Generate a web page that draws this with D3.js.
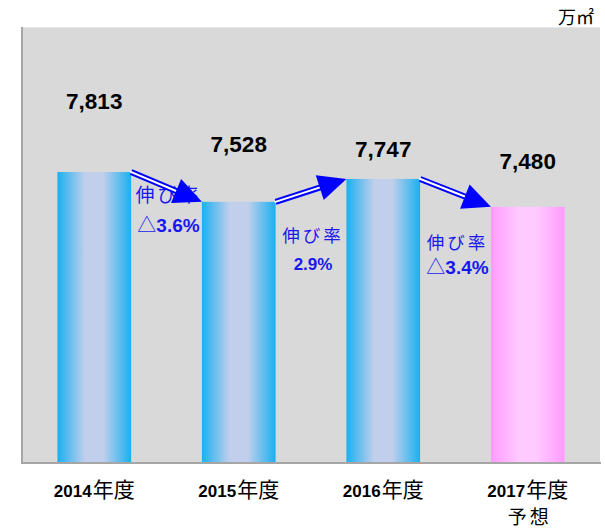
<!DOCTYPE html>
<html>
<head>
<meta charset="utf-8">
<script src="https://cdn.jsdelivr.net/npm/d3@7"></script>
<style>
  body { margin: 0; background: #fff; }
  svg { display: block; }
</style>
</head>
<body>
<svg width="605" height="529"></svg>
<script>
'use strict';

// chart values
var years = ["2014", "2015", "2016", "2017"];
var yearSuffix = "年度";
var subLabels = ["", "", "", "予想"];
var values = [7813, 7528, 7747, 7480];
var valueText = ["7,813", "7,528", "7,747", "7,480"];
var rateTitle = "伸び率";
var rates = ["△3.6%", "2.9%", "△3.4%"];
var unit = "万㎡";

// layout bits (pixel offsets of the hand-placed labels)
var labelLift = [63, 50, 22, 38];
var rateTitleY = [202, 242, 249];
var rateY = [232, 270, 274];
var rateTitleSize = [19, 17.5, 17.5];
var rateSize = [19, 17, 19];

var svg = d3.select("svg");
var plot = {left: 22, right: 600, top: 27, bottom: 463};

var x = d3.scaleBand().domain(years).range([plot.left, plot.right]).paddingInner(0.49).paddingOuter(0.245);
var y = d3.scaleLinear().domain([5030, 9200]).range([plot.bottom, plot.top]);

// gradients
var defs = svg.append("defs");
function grad(id, edge, mid) {
  var g = defs.append("linearGradient").attr("id", id)
    .attr("x1", "0%").attr("x2", "100%").attr("y1", "0%").attr("y2", "0%");
  g.append("stop").attr("offset", "0%").attr("stop-color", edge);
  g.append("stop").attr("offset", "38%").attr("stop-color", mid);
  g.append("stop").attr("offset", "62%").attr("stop-color", mid);
  g.append("stop").attr("offset", "100%").attr("stop-color", edge);
}
grad("gBlue", "#1ab0f0", "#c2cfec");
grad("gPink", "#ff9aff", "#ffcaff");

// plot background
svg.append("rect")
  .attr("x", plot.left).attr("y", plot.top)
  .attr("width", plot.right - plot.left).attr("height", plot.bottom - plot.top)
  .attr("fill", "#d9d9d9");
svg.append("line")
  .attr("x1", plot.left).attr("x2", plot.right).attr("y1", plot.top + 0.5).attr("y2", plot.top + 0.5)
  .attr("stroke", "#e6e6e6").attr("stroke-width", 1);

// bars
svg.selectAll(".bar")
  .data(values)
  .enter()
  .append("rect")
  .attr("class", "bar")
  .attr("x", function(d, i) { return x(years[i]); })
  .attr("y", function(d) { return y(d); })
  .attr("width", x.bandwidth())
  .attr("height", function(d) { return plot.bottom - y(d); })
  .attr("fill", function(d, i) { return i === 3 ? "url(#gPink)" : "url(#gBlue)"; });

// axis lines
svg.append("line")
  .attr("x1", plot.left).attr("x2", plot.left).attr("y1", plot.top).attr("y2", plot.bottom)
  .attr("stroke", "#a6a6a6").attr("stroke-width", 2);
svg.append("line")
  .attr("x1", plot.left - 1).attr("x2", plot.right + 1).attr("y1", plot.bottom).attr("y2", plot.bottom)
  .attr("stroke", "#a6a6a6").attr("stroke-width", 2);

// value labels
svg.selectAll(".val")
  .data(values)
  .enter()
  .append("text")
  .attr("class", "val")
  .attr("x", function(d, i) { return x(years[i]) + x.bandwidth() / 2; })
  .attr("y", function(d, i) { return y(d) - labelLift[i]; })
  .attr("text-anchor", "middle")
  .attr("font-family", "'Liberation Sans', Arial, sans-serif")
  .attr("font-weight", "bold")
  .attr("font-size", 22.5)
  .attr("fill", "#000")
  .text(function(d, i) { return valueText[i]; });

// category labels
var cat = svg.selectAll(".cat")
  .data(years)
  .enter()
  .append("text")
  .attr("class", "cat")
  .attr("x", function(d) { return x(d) + x.bandwidth() / 2; })
  .attr("y", 497)
  .attr("text-anchor", "middle")
  .attr("font-family", "'Liberation Sans', 'Noto Sans CJK JP', sans-serif")
  .attr("font-size", 17)
  .attr("fill", "#000");
cat.append("tspan").attr("font-weight", "bold").text(function(d) { return d; });
cat.append("tspan")
  .attr("font-family", "'Noto Sans CJK JP', sans-serif")
  .attr("font-size", 21)
  .attr("dx", 1)
  .text(yearSuffix);

svg.selectAll(".sub")
  .data(years)
  .enter()
  .append("text")
  .attr("class", "sub")
  .attr("x", function(d) { return x(d) + x.bandwidth() / 2 + 2; })
  .attr("y", 524)
  .attr("text-anchor", "middle")
  .attr("font-family", "'Noto Sans CJK JP', sans-serif")
  .attr("font-size", 19)
  .attr("letter-spacing", 3)
  .attr("fill", "#000")
  .text(function(d, i) { return subLabels[i]; });

// unit
svg.append("text")
  .attr("x", 594).attr("y", 24)
  .attr("text-anchor", "end")
  .attr("font-family", "'Noto Sans CJK JP', sans-serif")
  .attr("font-size", 18)
  .attr("fill", "#000")
  .text(unit);

// growth-rate notes
function gapX(i) { return (x(years[i]) + x.bandwidth() + x(years[i + 1])) / 2 + 2; }

svg.selectAll(".rtitle")
  .data(rates)
  .enter()
  .append("text")
  .attr("class", "rtitle")
  .attr("x", function(d, i) { return gapX(i); })
  .attr("y", function(d, i) { return rateTitleY[i]; })
  .attr("text-anchor", "middle")
  .attr("font-family", "'Noto Sans CJK JP', sans-serif")
  .attr("font-size", function(d, i) { return rateTitleSize[i]; })
  .attr("letter-spacing", 3)
  .attr("fill", "#1818ee")
  .text(rateTitle);

var rt = svg.selectAll(".rate")
  .data(rates)
  .enter()
  .append("text")
  .attr("class", "rate")
  .attr("x", function(d, i) { return gapX(i); })
  .attr("y", function(d, i) { return rateY[i]; })
  .attr("text-anchor", "middle")
  .attr("font-family", "'Liberation Sans', Arial, sans-serif")
  .attr("font-size", function(d, i) { return rateSize[i]; })
  .attr("fill", "#1818ee");
rt.append("tspan")
  .attr("font-family", "'Noto Sans CJK JP', sans-serif")
  .text(function(d) { return d.charAt(0) === "△" ? "△" : ""; });
rt.append("tspan")
  .attr("font-weight", "bold")
  .text(function(d) { return d.charAt(0) === "△" ? d.slice(1) : d; });

// double-line arrows between bar tops
var headLen = 28, headHalf = 13;
var arrows = d3.range(values.length - 1).map(function(i) {
  var x0 = x(years[i]) + x.bandwidth(), y0 = y(values[i]);
  var x1 = x(years[i + 1]), y1 = y(values[i + 1]);
  var dx = x1 - x0, dy = y1 - y0, len = Math.sqrt(dx * dx + dy * dy);
  var ux = dx / len, uy = dy / len;
  return {x0: x0, y0: y0, x1: x1, y1: y1, ux: ux, uy: uy};
});

var ag = svg.selectAll(".arrow").data(arrows).enter().append("g").attr("class", "arrow");
ag.append("line")
  .attr("x1", function(d) { return d.x0; }).attr("y1", function(d) { return d.y0; })
  .attr("x2", function(d) { return d.x1 - d.ux * (headLen - 4); })
  .attr("y2", function(d) { return d.y1 - d.uy * (headLen - 4); })
  .attr("stroke", "#0000ff").attr("stroke-width", 6);
ag.append("line")
  .attr("x1", function(d) { return d.x0 - d.ux * 1; }).attr("y1", function(d) { return d.y0 - d.uy * 1; })
  .attr("x2", function(d) { return d.x1 - d.ux * (headLen - 2); })
  .attr("y2", function(d) { return d.y1 - d.uy * (headLen - 2); })
  .attr("stroke", "#ffffff").attr("stroke-width", 2);
ag.append("path")
  .attr("d", function(d) {
    var bx = d.x1 - d.ux * headLen, by = d.y1 - d.uy * headLen;
    var px = -d.uy * headHalf, py = d.ux * headHalf;
    return "M" + d.x1 + "," + d.y1 + "L" + (bx + px) + "," + (by + py) + "L" + (bx - px) + "," + (by - py) + "Z";
  })
  .attr("fill", "#0000ff");
</script>
</body>
</html>
